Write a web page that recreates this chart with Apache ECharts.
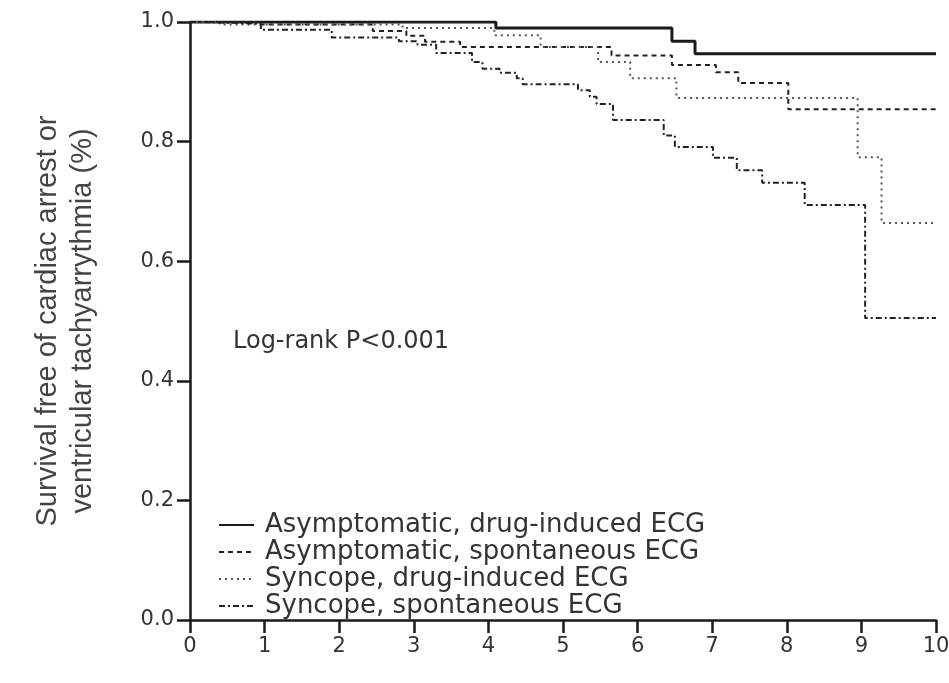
<!DOCTYPE html>
<html>
<head>
<meta charset="utf-8">
<title>Survival free of cardiac arrest</title>
<script src="https://cdn.jsdelivr.net/npm/echarts@6/dist/echarts.min.js"></script>
</head>
<body style="margin:0">
<div id="main" style="width:949px;height:683px"></div>
<script>
// years of follow-up and survival after each drop (step curves)
var asymDrugT = [0, 4.1, 6.46, 6.77, 10];
var asymDrugS = [1.0, 0.99, 0.968, 0.947, 0.947];

var asymSpontT = [0, 0.9, 2.45, 2.9, 3.15, 3.62, 5.65, 6.46, 7.05, 7.35, 8.02, 10];
var asymSpontS = [1.0, 0.996, 0.985, 0.977, 0.967, 0.958, 0.944, 0.928, 0.916, 0.898, 0.854, 0.854];

var syncDrugT = [0, 0.4, 2.85, 4.08, 4.7, 5.47, 5.9, 6.52, 8.95, 9.27, 10];
var syncDrugS = [1.0, 0.996, 0.99, 0.978, 0.958, 0.933, 0.906, 0.873, 0.774, 0.664, 0.664];

var syncSpontT = [0, 0.2, 0.95, 1.9, 2.8, 3.05, 3.3, 3.78, 3.92, 4.15, 4.38, 4.46, 5.2, 5.36, 5.45, 5.67, 6.35, 6.5, 7.01, 7.33, 7.67, 8.24, 9.05, 10];
var syncSpontS = [1.0, 0.997, 0.987, 0.974, 0.968, 0.962, 0.948, 0.933, 0.922, 0.915, 0.906, 0.896, 0.886, 0.875, 0.863, 0.836, 0.81, 0.791, 0.773, 0.752, 0.731, 0.694, 0.505, 0.505];

var seriesNames = [
    'Asymptomatic, drug-induced ECG',
    'Asymptomatic, spontaneous ECG',
    'Syncope, drug-induced ECG',
    'Syncope, spontaneous ECG'
];
var xTicks = [0, 1, 2, 3, 4, 5, 6, 7, 8, 9, 10];

function pairs(t, s) {
    var out = [];
    for (var i = 0; i < t.length; i++) out.push([t[i], s[i]]);
    return out;
}

var axisColor = '#1a1a1a';
var textColor = '#333333';
var textFont = 'DejaVu Sans';

function km(name, t, s, color, width, dash) {
    return {
        name: name,
        type: 'line',
        step: 'end',
        symbol: 'none',
        data: pairs(t, s),
        lineStyle: {color: color, width: width, type: dash},
        itemStyle: {color: color},
        emphasis: {disabled: true}
    };
}

var option = {
    backgroundColor: '#ffffff',
    animation: false,
    grid: {left: 190, right: 13, top: 22, bottom: 63, outerBoundsMode: 'none'},
    legend: {
        orient: 'vertical',
        left: 213,
        top: 507,
        itemWidth: 35,
        itemHeight: 14,
        itemGap: 1,
        itemStyle: {opacity: 0},
        data: seriesNames,
        textStyle: {
            fontFamily: textFont,
            fontSize: 26,
            lineHeight: 24,
            color: textColor,
            padding: [0, 0, 0, 6]
        }
    },
    xAxis: {
        type: 'value',
        min: 0,
        max: 10,
        interval: 1,
        axisLine: {lineStyle: {color: axisColor, width: 2.5}},
        axisTick: {length: 13, lineStyle: {color: axisColor, width: 2.5}},
        splitLine: {show: false},
        axisLabel: {
            margin: 16,
            fontFamily: textFont,
            fontSize: 21,
            color: textColor,
            formatter: function (v) { return xTicks.indexOf(v) >= 0 ? String(v) : ''; }
        }
    },
    yAxis: {
        type: 'value',
        min: 0,
        max: 1,
        interval: 0.2,
        name: 'Survival free of cardiac arrest or\nventricular tachyarrythmia (%)',
        nameLocation: 'middle',
        nameRotate: 90,
        nameGap: 90,
        nameTextStyle: {
            fontFamily: 'Liberation Sans',
            fontSize: 29,
            lineHeight: 35,
            color: '#444444'
        },
        axisLine: {show: true, lineStyle: {color: axisColor, width: 2.5}},
        axisTick: {show: true, length: 13, lineStyle: {color: axisColor, width: 2.5}},
        splitLine: {show: false},
        axisLabel: {
            margin: 16,
            fontFamily: textFont,
            fontSize: 21,
            color: textColor,
            formatter: function (v) { return v.toFixed(1); }
        }
    },
    graphic: [{
        type: 'text',
        left: 233,
        top: 330,
        style: {
            text: 'Log-rank P<0.001',
            font: '24px "DejaVu Sans"',
            fill: textColor
        }
    }],
    series: [
        km(seriesNames[0], asymDrugT, asymDrugS, '#1a1a1a', 3, 'solid'),
        km(seriesNames[1], asymSpontT, asymSpontS, '#222222', 2, [5, 4]),
        km(seriesNames[2], syncDrugT, syncDrugS, '#555555', 2, [2, 4]),
        km(seriesNames[3], syncSpontT, syncSpontS, '#222222', 2, [6, 3, 2, 3])
    ]
};

var myChart = echarts.init(document.getElementById('main'));
myChart.setOption(option);
</script>
</body>
</html>
